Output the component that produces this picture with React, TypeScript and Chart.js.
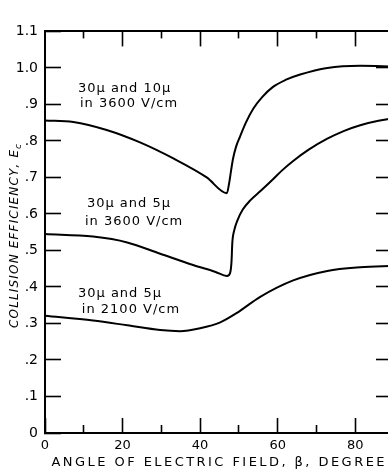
import { useEffect, useRef } from "react";
import { Chart, registerables } from "chart.js";

Chart.register(...registerables);

// ---- data ----
const angle10 = [0, 7.3, 15.9, 24.5, 33.1, 41.7, 46.9, 47.5, 48.0, 48.5, 49.3, 50.3, 51.8, 53.7, 56.0, 58.8, 62.0, 65.8, 72.8, 81.3, 90];
const eff10 = [0.856, 0.852, 0.830, 0.796, 0.752, 0.700, 0.657, 0.685, 0.720, 0.752, 0.785, 0.812, 0.850, 0.888, 0.920, 0.948, 0.967, 0.982, 1.000, 1.006, 1.004];

const angle5a = [0, 12.4, 21.2, 29.7, 38.2, 44.0, 46.9, 47.7, 48.1, 48.3, 48.8, 49.6, 51.0, 53.0, 55.5, 58.8, 61.0, 64.0, 68.0, 72.8, 77.0, 81.3, 86.0, 90];
const eff5a = [0.545, 0.538, 0.522, 0.491, 0.460, 0.441, 0.430, 0.437, 0.470, 0.520, 0.555, 0.582, 0.612, 0.638, 0.662, 0.695, 0.718, 0.745, 0.776, 0.806, 0.827, 0.843, 0.855, 0.862];

const angle5b = [0, 12.4, 21.2, 29.7, 34.8, 40.0, 45.2, 49.5, 55.5, 64.0, 72.8, 81.3, 90];
const eff5b = [0.321, 0.308, 0.295, 0.282, 0.279, 0.287, 0.303, 0.329, 0.373, 0.418, 0.444, 0.454, 0.458];

const xLabelTicks = [0, 20, 40, 60, 80];
const xMajorTicks = [20, 40, 60, 80];
const xMinorTicks = [10, 30, 50, 70];
const yTickValues = [0, 0.1, 0.2, 0.3, 0.4, 0.5, 0.6, 0.7, 0.8, 0.9, 1.0, 1.1];
const yRightTicks = [0.1, 0.2, 0.3, 0.4, 0.5, 0.6, 0.7, 0.8, 0.9, 1.0];

const noteLines = ["30\u03BC and 10\u03BC", "in 3600 V/cm", "30\u03BC and 5\u03BC", "in 3600 V/cm", "30\u03BC and 5\u03BC", "in 2100 V/cm"];
const noteX = [8.5, 9.0, 10.8, 10.3, 8.5, 9.5];
const noteY = [0.943, 0.903, 0.627, 0.580, 0.381, 0.339];

const xTitle = "ANGLE OF ELECTRIC FIELD, \u03B2, DEGREE";
const yTitleMain = "COLLISION EFFICIENCY, E";
const yTitleSub = "c";

const FONT = '"DejaVu Sans", sans-serif';

const toPts = (xs: number[], ys: number[]) => xs.map((x, i) => ({ x, y: ys[i] }));

function spacedWidth(ctx: CanvasRenderingContext2D, text: string, spacing: number) {
  let w = 0;
  for (const ch of Array.from(text)) w += ctx.measureText(ch).width + spacing;
  return w - spacing;
}

function drawSpaced(ctx: CanvasRenderingContext2D, text: string, x: number, y: number, spacing: number) {
  let cx = x;
  for (const ch of Array.from(text)) {
    ctx.fillText(ch, cx, y);
    cx += ctx.measureText(ch).width + spacing;
  }
  return cx;
}

const texts = {
  id: "texts",
  afterDraw(chart: any) {
    const ctx: CanvasRenderingContext2D = chart.ctx;
    const xs = chart.scales.x;
    const ys = chart.scales.y;
    ctx.save();
    ctx.fillStyle = "#000";
    ctx.textAlign = "left";
    ctx.textBaseline = "middle";
    ctx.font = `13px ${FONT}`;
    noteLines.forEach((t, i) => {
      drawSpaced(ctx, t, xs.getPixelForValue(noteX[i]), ys.getPixelForValue(noteY[i]), 1);
    });

    // x title
    ctx.font = `13px ${FONT}`;
    const xTarget = 333;
    const xw0 = spacedWidth(ctx, xTitle, 0);
    const xsp = (xTarget - xw0) / (Array.from(xTitle).length - 1);
    drawSpaced(ctx, xTitle, 218 - xTarget / 2, 463, xsp);

    // y title (rotated, italic, subscript c)
    ctx.translate(15, 236);
    ctx.rotate(-Math.PI / 2);
    ctx.font = `italic 12px ${FONT}`;
    const yTarget = 178;
    const yw0 = spacedWidth(ctx, yTitleMain, 0);
    const ysp = (yTarget - yw0) / (Array.from(yTitleMain).length - 1);
    ctx.font = `italic 9px ${FONT}`;
    const sw = ctx.measureText(yTitleSub).width;
    const total = yTarget + 1 + sw;
    ctx.font = `italic 12px ${FONT}`;
    const endX = drawSpaced(ctx, yTitleMain, -total / 2, 0, ysp);
    ctx.font = `italic 9px ${FONT}`;
    ctx.fillText(yTitleSub, endX - ysp + 1, 4);
    ctx.restore();
  },
};

const tickGrid = (len: number) => ({
  display: true,
  drawOnChartArea: false,
  drawTicks: true,
  tickLength: len,
  tickWidth: 1.6,
  tickColor: "#000",
  color: "#000",
});

const setTicks = (vals: number[]) => (s: any) => {
  s.ticks = vals.map((v) => ({ value: v }));
};

export default function App() {
  const ref = useRef<HTMLCanvasElement | null>(null);
  useEffect(() => {
    if (!ref.current) return;
    const lineStyle = {
      borderColor: "#000",
      borderWidth: 2,
      pointRadius: 0,
      fill: false,
      cubicInterpolationMode: "monotone" as const,
    };
    const chart = new Chart(ref.current, {
      type: "line",
      data: {
        datasets: [
          { label: "30\u03BC and 10\u03BC in 3600 V/cm", data: toPts(angle10, eff10), ...lineStyle },
          { label: "30\u03BC and 5\u03BC in 3600 V/cm", data: toPts(angle5a, eff5a), ...lineStyle },
          { label: "30\u03BC and 5\u03BC in 2100 V/cm", data: toPts(angle5b, eff5b), ...lineStyle },
        ],
      },
      options: {
        animation: false,
        responsive: false,
        devicePixelRatio: 1,
        layout: { padding: 0 },
        plugins: { legend: { display: false }, tooltip: { enabled: false } },
        scales: {
          x: {
            type: "linear",
            position: "bottom",
            weight: 1,
            min: 0,
            max: 90,
            grid: tickGrid(-15),
            border: { display: true, color: "#000", width: 2 },
            ticks: { color: "#000", font: { family: FONT, size: 13 }, padding: 19.5, maxRotation: 0, autoSkip: false },
            afterBuildTicks: setTicks(xLabelTicks),
            afterFit: (s: any) => {
              s.height = 39;
            },
          },
          xMinor: {
            type: "linear",
            position: "bottom",
            weight: 0,
            min: 0,
            max: 90,
            grid: tickGrid(-8),
            border: { display: false },
            ticks: { display: false },
            afterBuildTicks: setTicks(xMinorTicks),
            afterFit: (s: any) => {
              s.height = 0;
            },
          },
          xTop: {
            type: "linear",
            position: "top",
            weight: 1,
            min: 0,
            max: 90,
            grid: tickGrid(-15),
            border: { display: true, color: "#000", width: 2 },
            ticks: { display: false },
            afterBuildTicks: setTicks(xMajorTicks),
            afterFit: (s: any) => {
              s.height = 11;
            },
          },
          xTopMinor: {
            type: "linear",
            position: "top",
            weight: 0,
            min: 0,
            max: 90,
            grid: tickGrid(-7),
            border: { display: false },
            ticks: { display: false },
            afterBuildTicks: setTicks(xMinorTicks),
            afterFit: (s: any) => {
              s.height = 0;
            },
          },
          y: {
            type: "linear",
            position: "left",
            min: 0,
            max: 1.1,
            grid: tickGrid(-16),
            border: { display: true, color: "#000", width: 2 },
            ticks: {
              color: "#000",
              font: { family: FONT, size: 14 },
              padding: 23,
              callback: (v: any) => {
                const n = Math.round(Number(v) * 10) / 10;
                if (n === 0) return "0";
                if (n >= 1) return n.toFixed(1);
                return "." + Math.round(n * 10);
              },
            },
            afterBuildTicks: setTicks(yTickValues),
            afterFit: (s: any) => {
              s.width = 45;
            },
          },
          yRight: {
            type: "linear",
            position: "right",
            min: 0,
            max: 1.1,
            grid: tickGrid(-18),
            border: { display: true, color: "#000", width: 2 },
            ticks: { display: false },
            afterBuildTicks: setTicks(yRightTicks),
            afterFit: (s: any) => {
              s.width = 6;
            },
          },
        },
      },
      plugins: [texts],
    } as any);
    return () => chart.destroy();
  }, []);
  return (
    <div style={{ position: "absolute", left: 0, top: 0, width: 388, height: 472, overflow: "hidden", background: "#fff" }}>
      <canvas ref={ref} width={400} height={472} style={{ display: "block", width: 400, height: 472 }} />
    </div>
  );
}
